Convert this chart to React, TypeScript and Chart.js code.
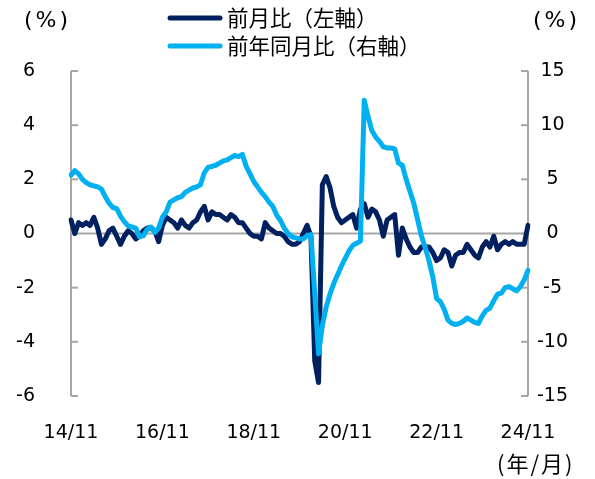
import React, { useEffect, useRef } from "react";
import { Chart, registerables } from "chart.js";

Chart.register(...registerables);

// Monthly categories 2014/11 .. 2024/11
const categories: string[] = [];
for (let i = 0; i <= 120; i++) {
  const total = 2014 * 12 + 10 + i;
  const y = Math.floor(total / 12);
  const m = (total % 12) + 1;
  categories.push(`${String(y).slice(2)}/${m}`);
}

const xTickLabels = ["14/11", "16/11", "18/11", "20/11", "22/11", "24/11"];
const leftTicks = [-6, -4, -2, 0, 2, 4, 6];
const rightTicks = [-15, -10, -5, 0, 5, 10, 15];

// 前月比 (left axis, %)
const momValues = [
  0.5, 0.0, 0.4, 0.3, 0.4, 0.3, 0.6, 0.2, -0.4, -0.2,
  0.1, 0.2, -0.1, -0.4, -0.1, 0.1, 0.0, -0.2, -0.1, 0.1,
  0.2, 0.2, 0.1, -0.3, 0.3, 0.6, 0.5, 0.4, 0.2, 0.5,
  0.3, 0.2, 0.4, 0.5, 0.8, 1.0, 0.5, 0.8, 0.7, 0.7,
  0.6, 0.5, 0.7, 0.6, 0.4, 0.4, 0.2, 0.0, -0.1, -0.1,
  -0.2, 0.4, 0.2, 0.1, 0.0, 0.0, -0.1, -0.3, -0.4, -0.4,
  -0.3, 0.0, 0.3, -0.1, -4.7, -5.5, 1.8, 2.1, 1.7, 1.0,
  0.6, 0.4, 0.5, 0.6, 0.7, 0.2, 0.9, 1.1, 0.6, 0.9,
  0.8, 0.5, -0.1, 0.5, 0.6, 0.7, -0.8, 0.2, -0.2, -0.5,
  -0.7, -0.7, -0.5, -0.5, -0.5, -0.7, -1.0, -0.9, -0.6, -0.7,
  -1.2, -0.8, -0.7, -0.7, -0.4, -0.6, -0.8, -0.9, -0.5, -0.3,
  -0.5, -0.1, -0.6, -0.4, -0.3, -0.4, -0.3, -0.4, -0.4, -0.4,
  0.3,
];

// 前年同月比 (right axis, %)
const yoyValues = [
  5.4, 5.8, 5.5, 5.0, 4.7, 4.5, 4.4, 4.3, 4.1, 3.4,
  2.8, 2.4, 2.3, 1.6, 1.1, 0.7, 0.6, 0.5, -0.3, -0.2,
  0.4, 0.6, 0.1, 0.5, 1.5, 2.0, 2.9, 3.1, 3.3, 3.4,
  3.8, 4.0, 4.2, 4.3, 4.5, 5.6, 6.1, 6.2, 6.3, 6.5,
  6.7, 6.8, 7.0, 7.2, 7.1, 7.3, 6.2, 5.5, 4.8, 4.3,
  3.8, 3.4, 2.9, 2.5, 1.7, 1.2, 0.5, 0.0, -0.3, -0.4,
  -0.5, -0.5, -0.2, -0.1, -5.5, -11.1, -8.5, -6.8, -5.6, -4.6,
  -3.8, -3.0, -2.3, -1.6, -1.1, -0.9, -0.7, 12.3, 10.8, 9.5,
  8.9, 8.5, 8.0, 7.9, 7.9, 7.8, 6.5, 6.3, 5.0, 3.9,
  2.8, 1.3, -0.2, -1.3, -2.5, -4.0, -6.0, -6.3, -7.0, -8.0,
  -8.3, -8.4, -8.3, -8.1, -7.8, -8.0, -8.2, -8.3, -7.6, -7.1,
  -6.9, -6.2, -5.6, -5.5, -5.0, -4.9, -5.1, -5.3, -4.9, -4.3,
  -3.4,
];

const NAVY = "#002060";
const LIGHT = "#00B0F0";
const AXIS_GREY = "#a6a6a6";
const TICK_FONT = "DejaVu Sans";
const JP_FONT = "'Noto Sans CJK JP'";

const axesPlugin = {
  id: "customAxes",
  beforeDatasetsDraw(chart: any) {
    const { ctx, chartArea: a, scales } = chart;
    const yl = scales.yL;
    const yr = scales.yR;
    ctx.save();
    ctx.strokeStyle = AXIS_GREY;
    ctx.lineWidth = 2;
    const seg = (x1: number, y1: number, x2: number, y2: number) => {
      ctx.beginPath();
      ctx.moveTo(x1, y1);
      ctx.lineTo(x2, y2);
      ctx.stroke();
    };
    const y0 = yl.getPixelForValue(0);
    seg(a.left, y0, a.right, y0);
    seg(a.left, a.top, a.left, a.bottom);
    leftTicks.forEach((v) => {
      const y = yl.getPixelForValue(v);
      seg(a.left, y, a.left + 7, y);
    });
    seg(a.right, a.top, a.right, a.bottom);
    rightTicks.forEach((v) => {
      const y = yr.getPixelForValue(v);
      seg(a.right - 7, y, a.right, y);
    });
    ctx.restore();
  },
  afterDraw(chart: any) {
    const { ctx } = chart;
    ctx.save();
    ctx.fillStyle = "#000";
    ctx.textBaseline = "middle";
    ctx.textAlign = "left";
    ctx.font = `22px ${TICK_FONT}`;
    (ctx as any).letterSpacing = "3px";
    ctx.fillText("(%)", 24, 21);
    ctx.fillText("(%)", 533, 21);
    (ctx as any).letterSpacing = "0px";
    // legend
    ctx.font = `21.5px ${JP_FONT}`;
    const items = [
      { text: "前月比（左軸）", color: NAVY, y: 18 },
      { text: "前年同月比（右軸）", color: LIGHT, y: 46 },
    ];
    items.forEach((it) => {
      ctx.strokeStyle = it.color;
      ctx.lineWidth = 5;
      ctx.lineCap = "round";
      ctx.beginPath();
      ctx.moveTo(170, it.y);
      ctx.lineTo(220, it.y);
      ctx.stroke();
      ctx.fillText(it.text, 227, it.y);
    });
    ctx.font = `22px ${JP_FONT}`;
    (ctx as any).letterSpacing = "2px";
    ctx.fillText("(年/月)", 497, 464);
    (ctx as any).letterSpacing = "0px";
    ctx.restore();
  },
};

export default function App() {
  const ref = useRef<HTMLCanvasElement | null>(null);
  useEffect(() => {
    if (!ref.current) return;
    const chart = new Chart(ref.current, {
      type: "line",
      data: {
        labels: categories,
        datasets: [
          {
            label: "前月比（左軸）",
            data: momValues,
            yAxisID: "yL",
            borderColor: NAVY,
            backgroundColor: NAVY,
            borderWidth: 5,
            pointRadius: 0,
            tension: 0,
            borderJoinStyle: "round",
            borderCapStyle: "round",
            order: 2,
          },
          {
            label: "前年同月比（右軸）",
            data: yoyValues,
            yAxisID: "yR",
            borderColor: LIGHT,
            backgroundColor: LIGHT,
            borderWidth: 5,
            pointRadius: 0,
            tension: 0,
            borderJoinStyle: "round",
            borderCapStyle: "round",
            order: 1,
          },
        ],
      },
      options: {
        responsive: false,
        maintainAspectRatio: false,
        animation: false,
        layout: { padding: { top: 71, left: 0, right: 0, bottom: 0 } },
        plugins: {
          legend: { display: false },
          tooltip: { enabled: false },
        },
        scales: {
          x: {
            type: "category",
            offset: false,
            grid: { display: false, drawTicks: false },
            border: { display: false },
            afterFit: (s: any) => {
              s.height = 83;
            },
            ticks: {
              autoSkip: false,
              maxRotation: 0,
              minRotation: 0,
              padding: 26,
              color: "#000",
              font: { family: TICK_FONT, size: 19 },
              callback: (_v: any, i: number) => {
                if (i % 24 !== 0) return null;
                return xTickLabels[i / 24];
              },
            },
          },
          yL: {
            type: "linear",
            position: "left",
            min: -6,
            max: 6,
            afterFit: (s: any) => {
              s.width = 71;
            },
            afterBuildTicks: (s: any) => {
              s.ticks = leftTicks.map((v) => ({ value: v }));
            },
            grid: { display: false, drawTicks: false },
            border: { display: false },
            ticks: {
              padding: 36,
              color: "#000",
              font: { family: TICK_FONT, size: 19 },
            },
          },
          yR: {
            type: "linear",
            position: "right",
            min: -15,
            max: 15,
            afterFit: (s: any) => {
              s.width = 67;
            },
            afterBuildTicks: (s: any) => {
              s.ticks = rightTicks.map((v) => ({ value: v }));
            },
            grid: { display: false, drawTicks: false },
            border: { display: false },
            ticks: {
              padding: 9,
              crossAlign: "center",
              color: "#000",
              font: { family: TICK_FONT, size: 19 },
            },
          },
        },
      },
      plugins: [axesPlugin],
    });
    return () => chart.destroy();
  }, []);
  return (
    <div style={{ position: "absolute", left: 0, top: 0, width: 595, height: 479, background: "#fff" }}>
      <canvas ref={ref} width={595} height={479} />
    </div>
  );
}
